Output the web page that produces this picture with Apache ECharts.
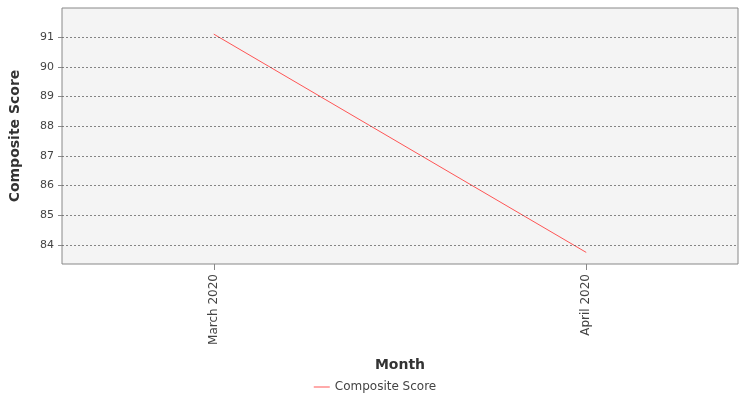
<!DOCTYPE html>
<html><head><meta charset="utf-8">
<script src="https://cdn.jsdelivr.net/npm/echarts@6/dist/echarts.min.js"></script>
<style>html,body{margin:0;padding:0;background:#fff}#c{width:750px;height:400px}</style>
</head><body><div id="c"></div>
<script>
const months = ['March 2020', 'April 2020'];
const scores = [91.1, 83.75];
const yTicks = [84, 85, 86, 87, 88, 89, 90, 91];
const chart = echarts.init(document.getElementById('c'));
chart.setOption({
  animation: false,
  textStyle: {fontFamily: 'DejaVu Sans'},
  grid: {left: 60, right: 12, top: 8, bottom: 136, backgroundColor: '#f4f4f4', show: true, borderColor: '#888', borderWidth: 1},
  legend: {bottom: 2, left: 'center', data: ['Composite Score'], itemWidth: 16, itemHeight: 1,
    icon: 'rect', textStyle: {fontSize: 12, color: '#444'}},
  xAxis: {type: 'value', min: -0.4075, max: 1.4075, name: 'Month', nameLocation: 'middle', nameGap: 94,
    nameTextStyle: {fontSize: 14, color: '#333', fontWeight: 'bold'},
    axisLine: {show: false, onZero: false}, splitLine: {show: false},
    axisTick: {show: true, customValues: [0, 1], length: 6, lineStyle: {color: '#888'}},
    axisLabel: {customValues: [0, 1], rotate: 90, fontSize: 12, margin: 10, color: '#444', formatter: v => months[Math.round(v)] || ''}},
  yAxis: {type: 'value', min: 83.36, max: 91.98, name: 'Composite Score', nameLocation: 'middle', nameGap: 40,
    nameTextStyle: {fontSize: 14, color: '#333', fontWeight: 'bold'},
    axisLine: {show: false, onZero: false},
    axisTick: {show: true, customValues: yTicks, length: 4, lineStyle: {color: '#888'}},
    axisLabel: {customValues: yTicks, fontSize: 11, margin: 8, color: '#444'},
    splitLine: {show: false}},
  series: [{name: 'Composite Score', type: 'line', data: scores.map((v, i) => [i, v]),
    showSymbol: false, lineStyle: {color: '#ff5555', width: 1}, itemStyle: {color: '#ff5555'}},
    {type: 'line', silent: true, data: [],
     markLine: {silent: true, symbol: 'none', label: {show: false}, lineStyle: {color: '#555', type: [2, 2], width: 0.7},
       data: yTicks.map(t => ({yAxis: t}))}}]
});
</script></body></html>
